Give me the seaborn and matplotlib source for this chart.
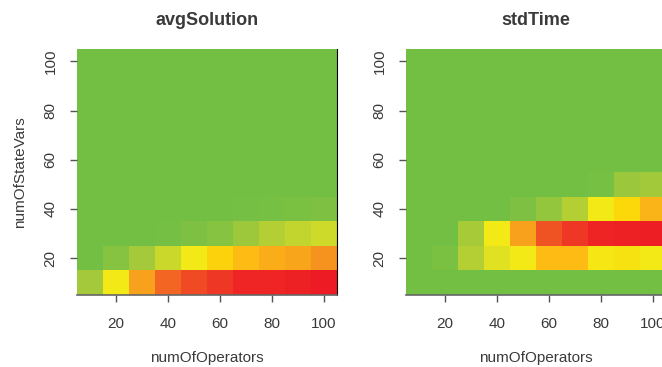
import numpy as np
import pandas as pd
import matplotlib
matplotlib.use("Agg")
import matplotlib.pyplot as plt
import seaborn as sns
from matplotlib.colors import LinearSegmentedColormap

# ---- data ----
num_operators = [10, 20, 30, 40, 50, 60, 70, 80, 90, 100]
num_state_vars = [10, 20, 30, 40, 50, 60, 70, 80, 90, 100]

# rows: numOfStateVars (bottom -> top), cols: numOfOperators; scaled 0..1
avg_solution = [
    [0.25, 0.50, 0.67, 0.75, 0.81, 0.86, 0.93, 0.93, 0.96, 1.00],
    [0.00, 0.10, 0.25, 0.37, 0.50, 0.56, 0.60, 0.64, 0.66, 0.69],
    [0.00, 0.00, 0.00, 0.01, 0.06, 0.10, 0.22, 0.30, 0.34, 0.38],
    [0.00, 0.00, 0.00, 0.00, 0.00, 0.00, 0.01, 0.02, 0.04, 0.06],
    [0.00] * 10,
    [0.00] * 10,
    [0.00] * 10,
    [0.00] * 10,
    [0.00] * 10,
    [0.00] * 10,
]
std_time = [
    [0.00] * 10,
    [0.00, 0.04, 0.30, 0.44, 0.50, 0.60, 0.60, 0.51, 0.52, 0.50],
    [0.00, 0.00, 0.26, 0.50, 0.67, 0.79, 0.86, 0.95, 0.96, 0.98],
    [0.00, 0.00, 0.00, 0.00, 0.06, 0.17, 0.30, 0.50, 0.55, 0.62],
    [0.00, 0.00, 0.00, 0.00, 0.00, 0.00, 0.00, 0.02, 0.20, 0.24],
    [0.00] * 10,
    [0.00] * 10,
    [0.00] * 10,
    [0.00] * 10,
    [0.00] * 10,
]
tick_values = [20, 40, 60, 80, 100]
titles = ["avgSolution", "stdTime"]

# ---- style ----
stops = [
    (0.00, "#72BF44"),
    (0.25, "#A4C93A"),
    (0.40, "#D4DC27"),
    (0.50, "#F3EA17"),
    (0.55, "#FCD80A"),
    (0.60, "#FDBB14"),
    (0.67, "#F7A11D"),
    (0.75, "#F26622"),
    (0.82, "#EF4623"),
    (0.90, "#EE2A24"),
    (1.00, "#ED1C24"),
]
cmap = LinearSegmentedColormap.from_list("gyr", stops)

plt.rcParams["font.family"] = ["Liberation Sans", "DejaVu Sans"]
txt = "#3a3a3a"

fig = plt.figure(figsize=(6.62, 3.67), dpi=100)
W, H = 662, 367
positions = [
    [77 / W, (H - 295) / H, 260 / W, 246 / H],
    [406 / W, (H - 295) / H, 260 / W, 246 / H],
]

for i, (data, title) in enumerate(zip([avg_solution, std_time], titles)):
    ax = fig.add_axes(positions[i])
    df = pd.DataFrame(data, index=num_state_vars, columns=num_operators)
    sns.heatmap(df, cmap=cmap, vmin=0, vmax=1, cbar=False, ax=ax,
                linewidths=0, rasterized=True)
    ax.invert_yaxis()
    pos = [(v - 5) / 10 for v in tick_values]
    ax.set_xticks(pos)
    ax.set_xticklabels([str(v) for v in tick_values], rotation=0,
                       fontsize=11, color=txt)
    ax.set_yticks(pos)
    ax.set_yticklabels([str(v) for v in tick_values], rotation=90,
                       va="center", fontsize=11, color=txt)
    ax.tick_params(axis="x", length=5, width=1, color="#555555", pad=11)
    ax.tick_params(axis="y", length=5, width=1, color="#555555", pad=9)
    ax.set_xlabel("numOfOperators", fontsize=11, color=txt, labelpad=14)
    if i == 0:
        ax.set_ylabel("numOfStateVars", fontsize=11, color=txt, labelpad=12)
    else:
        ax.set_ylabel("")
    ax.set_title(title, fontsize=13, fontweight="bold", color=txt, pad=17)
    for s in ["top", "left"]:
        ax.spines[s].set_visible(False)
    ax.spines["bottom"].set_visible(True)
    ax.spines["bottom"].set_color("#666666")
    ax.spines["bottom"].set_linewidth(1.2)
    ax.spines["right"].set_visible(True)
    ax.spines["right"].set_color("#000000")
    ax.spines["right"].set_linewidth(0.8)

fig.savefig("out.png", dpi=100)
